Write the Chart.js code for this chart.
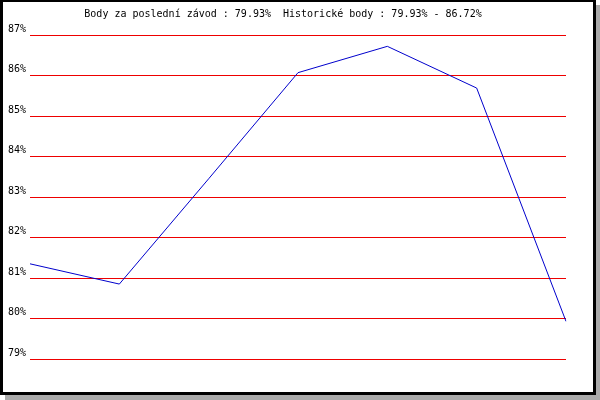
<!DOCTYPE html>
<html>
<head>
<meta charset="utf-8">
<script src="https://cdn.jsdelivr.net/npm/chart.js@4"></script>
<style>
    html, body { margin: 0; padding: 0; background: #fff; }
    #frame {
        position: absolute; left: 0; top: 0;
        width: 590px; height: 390px;
        border: 3px solid #000; border-top-width: 2px;
        background: #fff;
        box-shadow: 5px 5px 0 #aaa;
    }
    #wrap { position: absolute; left: 0; top: 0; width: 600px; height: 400px; }
</style>
</head>
<body>
<div id="frame"></div>
<div id="wrap"><canvas id="chart" width="600" height="400"></canvas></div>
<script>
// points per race
var races = ['1', '2', '3', '4', '5', '6', '7'];
var points = [81.35, 80.85, 83.45, 86.07, 86.72, 85.69, 79.93];
var yTicks = [79, 80, 81, 82, 83, 84, 85, 86, 87];
var titleText = 'Body za poslední závod : 79.93%  Historické body : 79.93% - 86.72%';

Chart.defaults.font.family = '"DejaVu Sans Mono", "Liberation Mono", monospace';
Chart.defaults.font.size = 10;
Chart.defaults.color = '#000';

new Chart(document.getElementById('chart'), {
    type: 'line',
    data: {
        labels: races,
        datasets: [{
            data: points,
            borderColor: '#0000cc',
            borderWidth: 1,
            pointRadius: 0,
            tension: 0,
            fill: false
        }]
    },
    options: {
        responsive: false,
        animation: false,
        events: [],
        layout: { padding: { left: 0, right: 34, top: 0, bottom: 41 } },
        plugins: {
            legend: { display: false },
            tooltip: { enabled: false },
            title: {
                display: true,
                text: titleText,
                color: '#000',
                font: { size: 10, weight: 'normal' },
                padding: { top: 8, bottom: 15 }
            }
        },
        scales: {
            x: {
                display: false,
                offset: false
            },
            y: {
                min: yTicks[0],
                max: yTicks[yTicks.length - 1],
                afterFit: function (s) { s.width = 30; },
                afterBuildTicks: function (s) {
                    s.ticks = yTicks.map(function (v) { return { value: v }; });
                },
                border: { display: false },
                grid: { color: '#ee0000', lineWidth: 1, drawTicks: false },
                ticks: {
                    padding: 4,
                    labelOffset: -6,
                    color: '#000',
                    callback: function (v) { return v + '%'; }
                }
            }
        }
    }
});
</script>
</body>
</html>
